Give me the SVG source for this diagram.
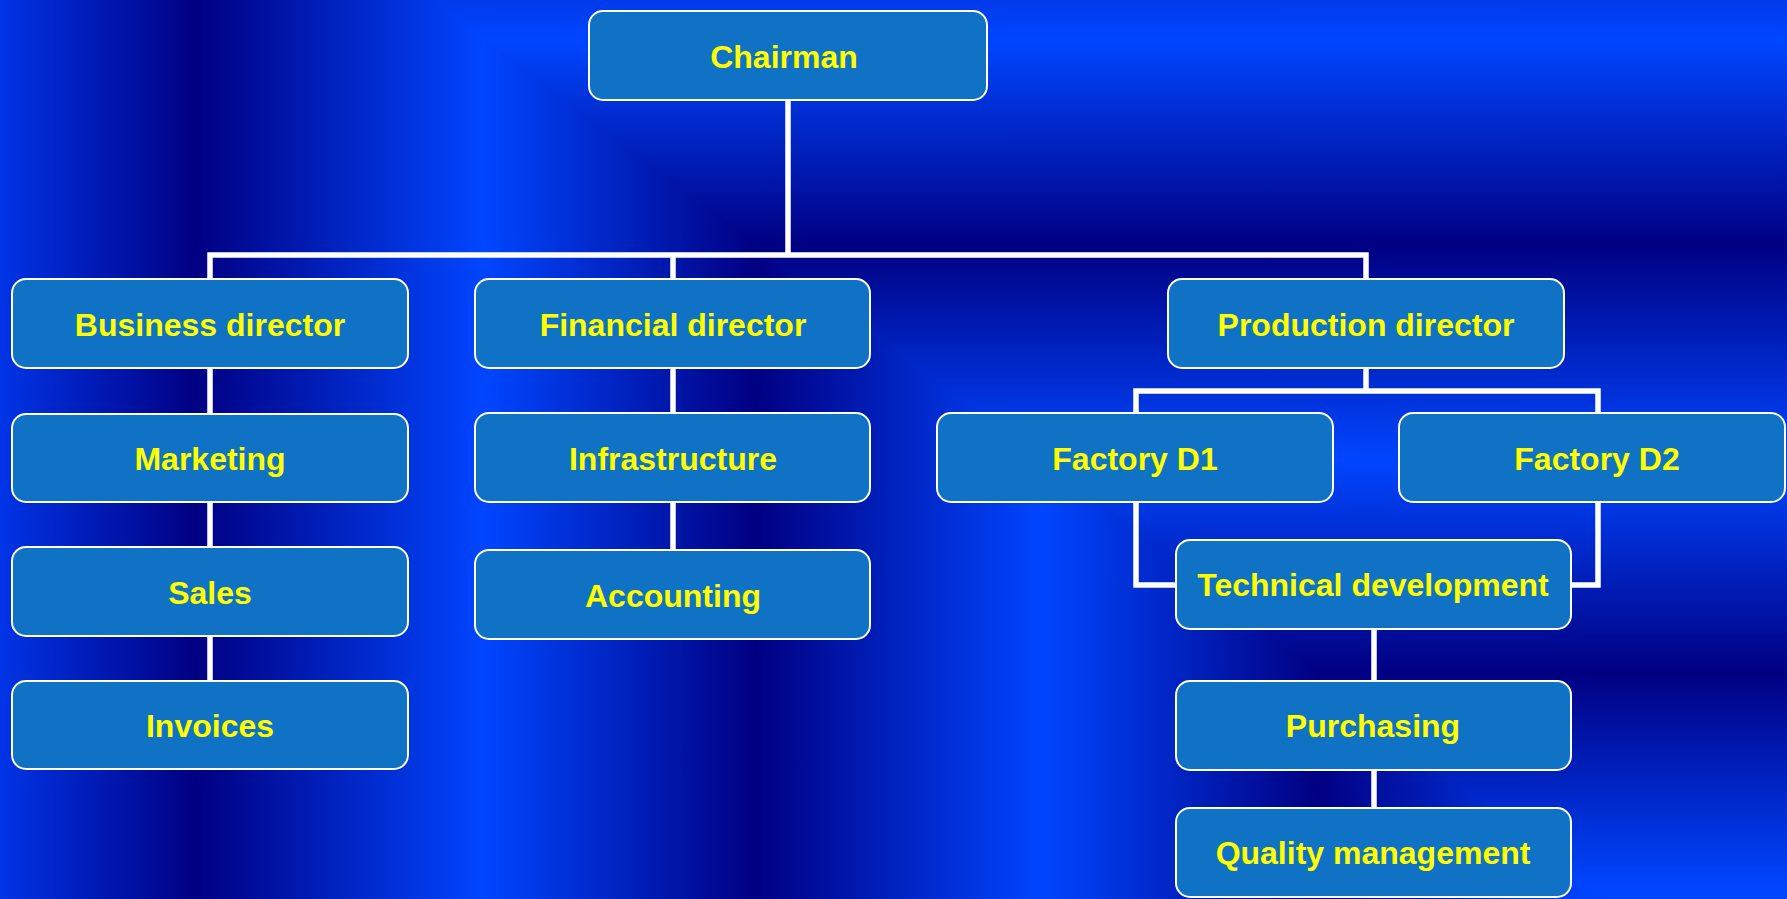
<svg xmlns="http://www.w3.org/2000/svg" width="1787" height="899" viewBox="0 0 1787 899">
<defs>
<linearGradient id="vstripe" gradientUnits="userSpaceOnUse" x1="0" y1="0" x2="1787" y2="0">
<stop offset="0" stop-color="#0034E6"/>
<stop offset="0.1097" stop-color="#000082"/>
<stop offset="0.2708" stop-color="#0046FF"/>
<stop offset="0.4230" stop-color="#000082"/>
<stop offset="0.5831" stop-color="#0046FF"/>
<stop offset="0.7376" stop-color="#000082"/>
<stop offset="0.8920" stop-color="#0046FF"/>
<stop offset="1" stop-color="#0020B8"/>
</linearGradient>
<linearGradient id="hstripe" gradientUnits="userSpaceOnUse" x1="0" y1="0" x2="0" y2="899">
<stop offset="0" stop-color="#003AEA"/>
<stop offset="0.0445" stop-color="#0046FF"/>
<stop offset="0.2725" stop-color="#000082"/>
<stop offset="0.5117" stop-color="#0046FF"/>
<stop offset="0.7486" stop-color="#000082"/>
<stop offset="0.99" stop-color="#0046FF"/>
<stop offset="1" stop-color="#0046FF"/>
</linearGradient>
<style>
.box{fill:#1072C4;stroke:#FFFFFF;stroke-width:2}
.lbl{font-family:"Liberation Sans",Arial,sans-serif;font-weight:bold;font-size:32px;fill:#FFFF00;text-anchor:middle}
.con{stroke:#FFFFFF;stroke-width:5.5;fill:none;stroke-linejoin:miter;stroke-linecap:square}
</style>
</defs>
<rect x="0" y="0" width="1787" height="899" fill="url(#vstripe)"/>
<polygon points="432,0 484,40 756,245 1042,460 1318,673 1594,890 1606,899 1787,899 1787,0" fill="url(#hstripe)"/>

<g id="connectors">
<path class="con" d="M788,100 V255 M210,255 H1366 M210,255 V279 M673,255 V279 M1366,255 V279"/>
<path class="con" d="M210,368 V414 M210,501 V547 M210,636 V681"/>
<path class="con" d="M673,368 V413 M673,502 V550"/>
<path class="con" d="M1366,368 V391 M1136,413 V391 H1598 V413"/>
<path class="con" d="M1136,502 V585 H1176 M1598,502 V585 H1571"/>
<path class="con" d="M1374,629 V680 M1374,770 V807"/>
</g>

<g id="chairman"><rect class="box" x="589" y="11" width="398" height="89" rx="14"/><text class="lbl" x="784" y="68">Chairman</text></g>
<g id="business-director"><rect class="box" x="12" y="279" width="396" height="89" rx="14"/><text class="lbl" x="210" y="336">Business director</text></g>
<g id="financial-director"><rect class="box" x="475" y="279" width="395" height="89" rx="14"/><text class="lbl" x="673" y="336">Financial director</text></g>
<g id="production-director"><rect class="box" x="1168" y="279" width="396" height="89" rx="14"/><text class="lbl" x="1366" y="336">Production director</text></g>
<g id="marketing"><rect class="box" x="12" y="414" width="396" height="88" rx="14"/><text class="lbl" x="210" y="470">Marketing</text></g>
<g id="sales"><rect class="box" x="12" y="547" width="396" height="89" rx="14"/><text class="lbl" x="210" y="604">Sales</text></g>
<g id="invoices"><rect class="box" x="12" y="681" width="396" height="88" rx="14"/><text class="lbl" x="210" y="737">Invoices</text></g>
<g id="infrastructure"><rect class="box" x="475" y="413" width="395" height="89" rx="14"/><text class="lbl" x="673" y="470">Infrastructure</text></g>
<g id="accounting"><rect class="box" x="475" y="550" width="395" height="89" rx="14"/><text class="lbl" x="673" y="607">Accounting</text></g>
<g id="factory-d1"><rect class="box" x="937" y="413" width="396" height="89" rx="14"/><text class="lbl" x="1135" y="470">Factory D1</text></g>
<g id="factory-d2"><rect class="box" x="1399" y="413" width="386" height="89" rx="14"/><text class="lbl" x="1597" y="470">Factory D2</text></g>
<g id="technical-development"><rect class="box" x="1176" y="540" width="395" height="89" rx="14"/><text class="lbl" x="1373" y="596">Technical development</text></g>
<g id="purchasing"><rect class="box" x="1176" y="681" width="395" height="89" rx="14"/><text class="lbl" x="1373" y="737">Purchasing</text></g>
<g id="quality-management"><rect class="box" x="1176" y="808" width="395" height="89" rx="14"/><text class="lbl" x="1373" y="864">Quality management</text></g>
</svg>
